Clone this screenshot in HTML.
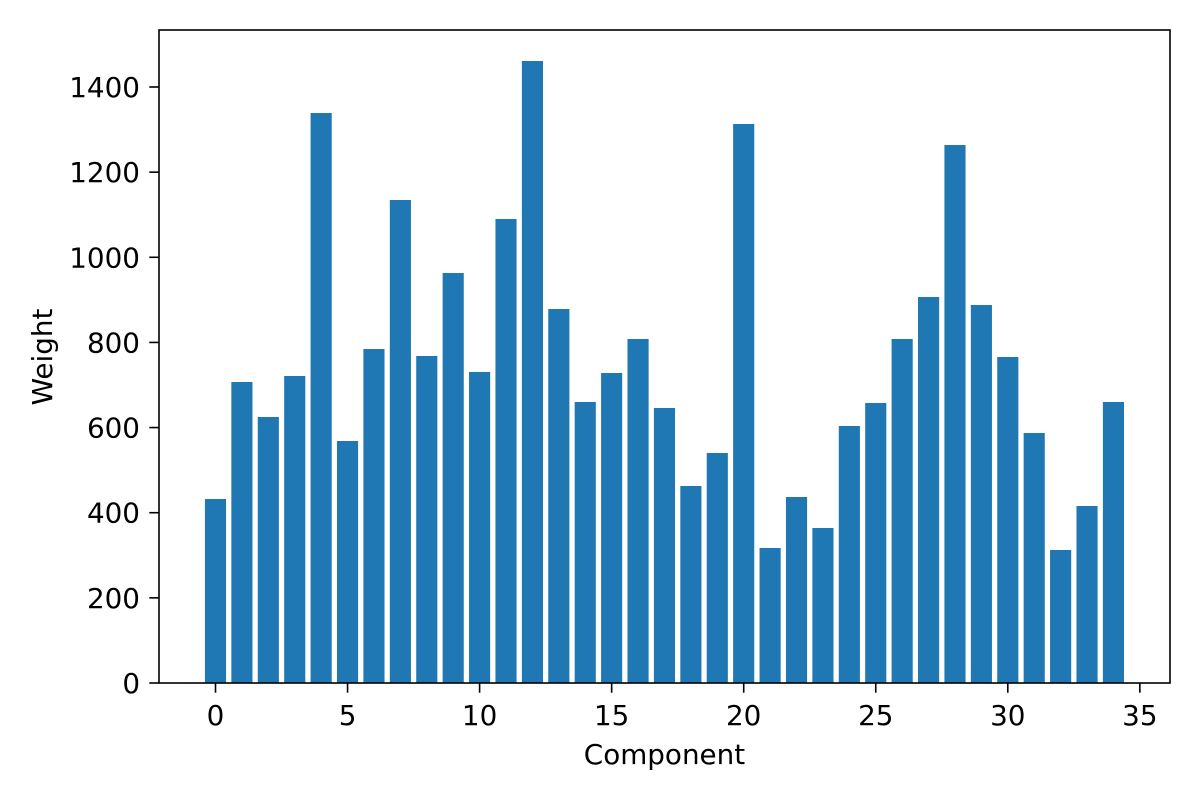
<!DOCTYPE html>
<html><head><meta charset="utf-8"><style>
html,body{margin:0;padding:0;background:#fff;}
svg{display:block;font-family:"DejaVu Sans","Liberation Sans",sans-serif;}
</style></head><body>
<svg width="1200" height="800" viewBox="0 0 1200 800" xmlns="http://www.w3.org/2000/svg">
<rect width="1200" height="800" fill="#fff"/>
<g id="bars" fill="#1f77b4"></g>
<rect x="159" y="30" width="1011" height="653" fill="none" stroke="#000" stroke-width="1.6"/>
<g id="ticks" stroke="#000" stroke-width="1.6"></g>
<g id="labels" font-size="27.8" fill="#000"></g>
<text x="664.5" y="764" font-size="27.8" text-anchor="middle">Component</text>
<text transform="translate(52,357) rotate(-90)" font-size="27.8" text-anchor="middle">Weight</text>
</svg>
<script>
var tops=[499,382,417,376,113,441,349,200,356,273,372,219,61,309,402,373,339,408,486,453,124,548,497,528,426,403,339,297,145,305,357,433,550,506,402];
var ns="http://www.w3.org/2000/svg";
var u=26.41,x0=215.5;
var b=document.getElementById("bars");
tops.forEach(function(t,i){var r=document.createElementNS(ns,"rect");var c=x0+i*u;r.setAttribute("x",c-0.4*u);r.setAttribute("width",0.8*u);r.setAttribute("y",t);r.setAttribute("height",683-t);b.appendChild(r);});
var tk=document.getElementById("ticks"),lb=document.getElementById("labels");
for(var v=0;v<=35;v+=5){var x=x0+v*u;var l=document.createElementNS(ns,"line");l.setAttribute("x1",x);l.setAttribute("x2",x);l.setAttribute("y1",683);l.setAttribute("y2",692.7);tk.appendChild(l);
var t=document.createElementNS(ns,"text");t.setAttribute("x",x);t.setAttribute("y",725);t.setAttribute("text-anchor","middle");t.textContent=v;lb.appendChild(t);}
for(var v=0;v<=1400;v+=200){var y=683-v*596/1400;var l=document.createElementNS(ns,"line");l.setAttribute("x1",149.3);l.setAttribute("x2",159);l.setAttribute("y1",y);l.setAttribute("y2",y);tk.appendChild(l);
var t=document.createElementNS(ns,"text");t.setAttribute("x",140);t.setAttribute("y",y+10);t.setAttribute("text-anchor","end");t.textContent=v;lb.appendChild(t);}
</script>
</body></html>
